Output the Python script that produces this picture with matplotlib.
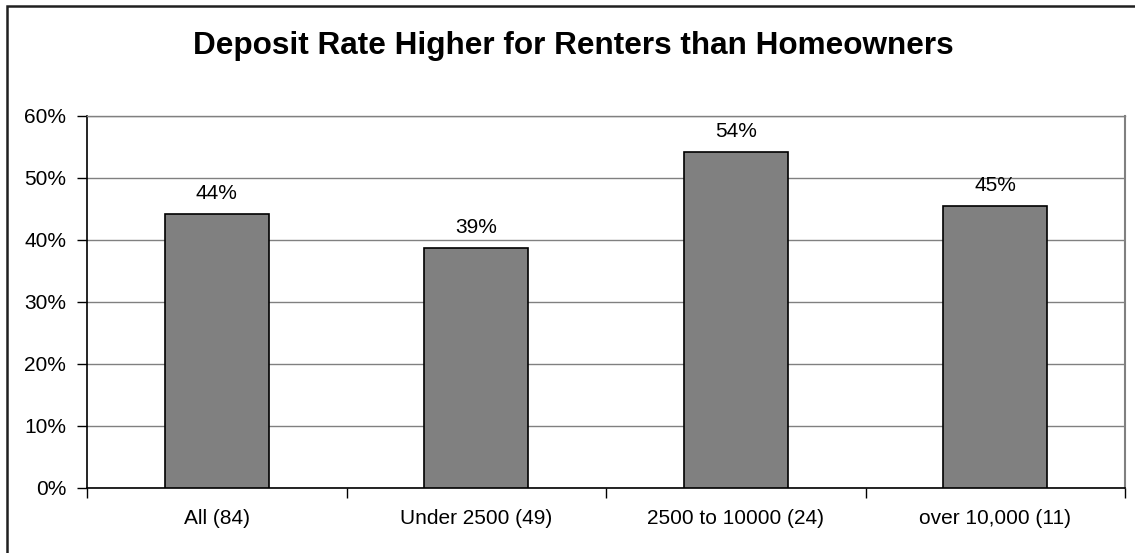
import matplotlib
matplotlib.use("Agg")
import matplotlib.pyplot as plt
from matplotlib.patches import Rectangle

categories = ["All (84)", "Under 2500 (49)", "2500 to 10000 (24)", "over 10,000 (11)"]
values = [0.441, 0.387, 0.542, 0.454]
yticks = [0.0, 0.1, 0.2, 0.3, 0.4, 0.5, 0.6]
ytick_labels = ["0%", "10%", "20%", "30%", "40%", "50%", "60%"]
title = "Deposit Rate Higher for Renters than Homeowners"

plt.rcParams['font.family'] = ['Liberation Sans', 'DejaVu Sans']

fig = plt.figure(figsize=(11.35, 5.53), dpi=100)
fig.patch.set_facecolor('white')

# outer chart border (left/top visible)
fig.add_artist(Rectangle((7/1135, -0.1), 1.2, (553-6)/553 + 0.1, transform=fig.transFigure,
                         fill=False, edgecolor='#202020', linewidth=1.8))

ax = fig.add_axes([87/1135, (553-487.7)/553, (1125-87)/1135, (487.7-115.7)/553])
x = list(range(len(categories)))
ax.bar(x, values, width=0.4, color='#808080', edgecolor='black', linewidth=1.2, zorder=3)
ax.set_xlim(-0.5, len(categories) - 0.5)
ax.set_ylim(0, 0.6)
ax.set_yticks(yticks)
ax.set_yticklabels(ytick_labels, fontsize=15)
ax.yaxis.grid(True, color='#808080', linewidth=1)
ax.set_axisbelow(True)

ax.set_xticks(x)
ax.set_xticklabels(categories, fontsize=15)
ax.tick_params(axis='x', length=0, pad=15)
ax.set_xticks([i - 0.5 for i in range(len(categories) + 1)], minor=True)
ax.tick_params(axis='x', which='minor', length=7, width=1, color='black', direction='out')
ax.tick_params(axis='y', length=7, width=1, color='black', direction='out', pad=8)

for s in ['left', 'bottom']:
    ax.spines[s].set_color('black')
    ax.spines[s].set_linewidth(1.2)
ax.spines['right'].set_color('#808080')
ax.spines['right'].set_linewidth(1.5)
ax.spines['top'].set_color('#808080')
ax.spines['top'].set_linewidth(1)

for xi, v in zip(x, values):
    ax.annotate(f"{v*100:.0f}%", (xi, v), xytext=(0, 8), textcoords='offset points',
                ha='center', va='bottom', fontsize=15)

fig.text(573/1135, 1 - 46/553, title, ha='center', va='center', fontsize=22.7, fontweight='bold')

fig.savefig("out.png", dpi=100, facecolor='white')
